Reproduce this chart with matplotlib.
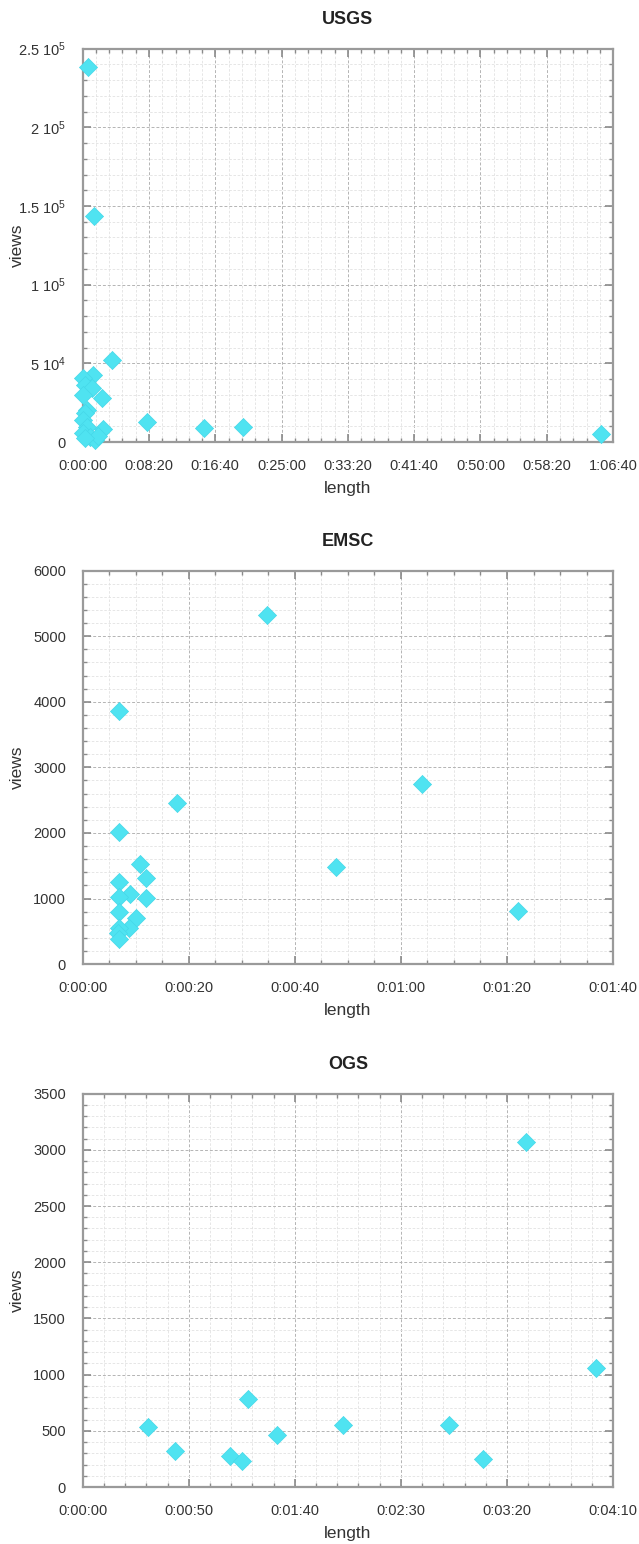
import numpy as np
import matplotlib
matplotlib.use('Agg')
import matplotlib.pyplot as plt
from matplotlib.ticker import MultipleLocator, FuncFormatter

plt.rcParams['font.family'] = ['Liberation Sans', 'DejaVu Sans']

# lengths in seconds, views as counts
usgs_len = [42, 88, 219, 80, 5, 17, 68, 5, 143, 30, 17, 5, 483, 156, 30, 0, 55, 93, 118, 17, 915, 1211, 3912]
usgs_views = [238300, 143400, 52200, 42650, 40550, 36300, 34200, 29900, 27800, 20400, 18300, 14000, 12900,
              8100, 9700, 5500, 3400, 1300, 3800, 2300, 8900, 9500, 5400]

emsc_len = [6.9, 6.9, 17.7, 10.8, 11.9, 6.9, 8.9, 6.9, 11.9, 6.9, 10.1, 8.8, 6.9, 6.7, 6.9, 34.8, 47.8, 64, 82]
emsc_views = [3864, 2018, 2452, 1526, 1317, 1256, 1068, 1017, 1002, 798, 697, 554, 545, 468, 377, 5324, 1480, 2741, 813]

ogs_len = [30.9, 43.5, 69.4, 74.9, 78, 91.7, 122.8, 172.8, 188.8, 241.9, 209]
ogs_views = [535, 322, 275, 233, 781, 461, 556, 556, 248, 1062, 3070]

titles = ['USGS', 'EMSC', 'OGS']
panels = [
    # x data, y data, xmax, xmajor, xminor, ymax, ymajor, yminor
    (usgs_len, usgs_views, 4000, 500, 100, 250000, 50000, 10000),
    (emsc_len, emsc_views, 100, 20, 5, 6000, 1000, 200),
    (ogs_len, ogs_views, 250, 50, 10, 3500, 500, 100),
]


def hms(v, pos=None):
    v = int(round(v))
    if v < 0:
        return ''
    return '%d:%02d:%02d' % (v // 3600, (v % 3600) // 60, v % 60)


def sci(v, pos=None):
    if v <= 0:
        return '0' if v == 0 else ''
    e = int(np.floor(np.log10(v)))
    m = v / 10 ** e
    return '%g $\\mathregular{10^{%d}}$' % (m, e)


fig = plt.figure(figsize=(6.39, 15.44), dpi=100)
bottoms = [0.7137, 0.3756, 0.0369]

for i, (xs, ys, xmax, xmaj, xmin_, ymax, ymaj, ymin_) in enumerate(panels):
    ax = fig.add_axes([0.1294, bottoms[i], 0.830, 0.2548])
    ax.scatter(xs, ys, marker='D', s=85, color='#4fe3f1', edgecolors='#45d8e8',
               linewidths=0.5, zorder=5, clip_on=False)
    ax.set_xlim(0, xmax)
    ax.set_ylim(0, ymax)
    ax.xaxis.set_major_locator(MultipleLocator(xmaj))
    ax.xaxis.set_minor_locator(MultipleLocator(xmin_))
    ax.yaxis.set_major_locator(MultipleLocator(ymaj))
    ax.yaxis.set_minor_locator(MultipleLocator(ymin_))
    ax.xaxis.set_major_formatter(FuncFormatter(hms))
    if i == 0:
        ax.yaxis.set_major_formatter(FuncFormatter(sci))

    ax.grid(which='major', color='#b4b4b4', linestyle=(0, (3, 2)), linewidth=0.7)
    ax.grid(which='minor', color='#e2e2e2', linestyle=(0, (3, 2)), linewidth=0.6)
    ax.set_axisbelow(True)

    for sp in ax.spines.values():
        sp.set_color('#9a9a9a')
        sp.set_linewidth(1.6)
    ax.tick_params(which='both', direction='in', top=True, right=True, color='#8a8a8a',
                   labelsize=10.5, labelcolor='#333333')
    ax.tick_params(which='major', length=6, width=1.2, pad=12)
    ax.tick_params(which='minor', length=3, width=1.0)

    ax.set_title(titles[i], fontsize=13, fontweight='bold', pad=18, color='#222222')
    ax.set_xlabel('length', fontsize=12.5, color='#333333')
    ax.set_ylabel('views', fontsize=12.5, color='#333333')
    ax.xaxis.set_label_coords(0.5, -0.1)
    ax.yaxis.set_label_coords(-0.108, 0.5)

fig.savefig('out.png', dpi=100)
